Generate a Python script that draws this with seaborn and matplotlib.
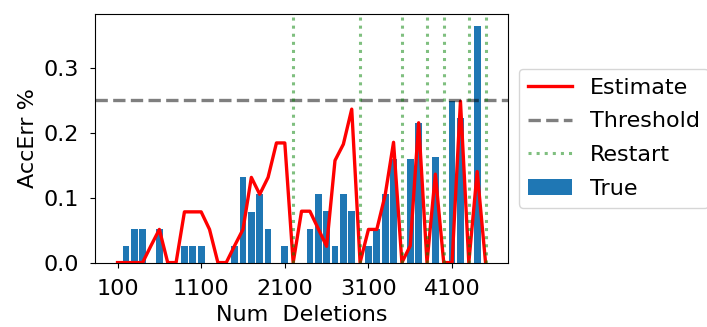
import numpy as np
import pandas as pd
import seaborn as sns
import matplotlib.pyplot as plt

# Data
num_deletions = list(range(100, 4600, 100))
true_err = [0.0, 0.026, 0.051, 0.051, 0.0, 0.051, 0.0, 0.0, 0.026, 0.026,
            0.026, 0.0, 0.0, 0.0, 0.026, 0.131, 0.078, 0.105, 0.051, 0.0,
            0.026, 0.0, 0.0, 0.052, 0.105, 0.079, 0.026, 0.105, 0.079, 0.0,
            0.026, 0.052, 0.105, 0.159, 0.0, 0.160, 0.215, 0.0, 0.163, 0.0,
            0.248, 0.222, 0.0, 0.364, 0.0]
est_err = [0.0, 0.0, 0.0, 0.0, 0.026, 0.051, 0.0, 0.0, 0.078, 0.078,
           0.078, 0.051, 0.0, 0.0, 0.026, 0.051, 0.131, 0.105, 0.131, 0.184,
           0.184, 0.0, 0.079, 0.079, 0.052, 0.025, 0.157, 0.182, 0.236, 0.0,
           0.051, 0.051, 0.104, 0.185, 0.0, 0.026, 0.215, 0.0, 0.136, 0.0,
           0.0, 0.248, 0.0, 0.140, 0.0]
restarts = [2200, 3000, 3500, 3800, 4000, 4300, 4500]
threshold = 0.25
xticks = [100, 1100, 2100, 3100, 4100]

df = pd.DataFrame({'deletions': num_deletions, 'true': true_err, 'est': est_err})

plt.rcParams['font.size'] = 16
plt.rcParams['xtick.major.pad'] = 8.4
plt.rcParams['ytick.major.pad'] = 8.4

fig = plt.figure(figsize=(7.07, 3.27), dpi=100)
ax = fig.add_axes([0.135, 0.197, 0.583, 0.760])

sns.barplot(data=df, x='deletions', y='true', native_scale=True,
            color='#1f77b4', saturation=1, label='True', ax=ax, zorder=1)
sns.lineplot(data=df, x='deletions', y='est', color='r', linewidth=2.4,
             label='Estimate', ax=ax, legend=False)
ax.axhline(threshold, color='k', alpha=0.5, linestyle='--', linewidth=2.4,
           label='Threshold')
for i, r in enumerate(restarts):
    ax.axvline(r, color='g', alpha=0.5, linestyle=':', linewidth=2.2,
               label='Restart' if i == 0 else None)

ax.set_xticks(xticks)
ax.set_xticklabels([str(t) for t in xticks])
ax.set_yticks([0.0, 0.1, 0.2, 0.3])
ax.set_xlabel('Num  Deletions')
ax.set_ylabel('AccErr %')
ax.legend(loc='center left', bbox_to_anchor=(1.0, 0.5), labelspacing=0.62)

fig.savefig('out.png', dpi=100)
